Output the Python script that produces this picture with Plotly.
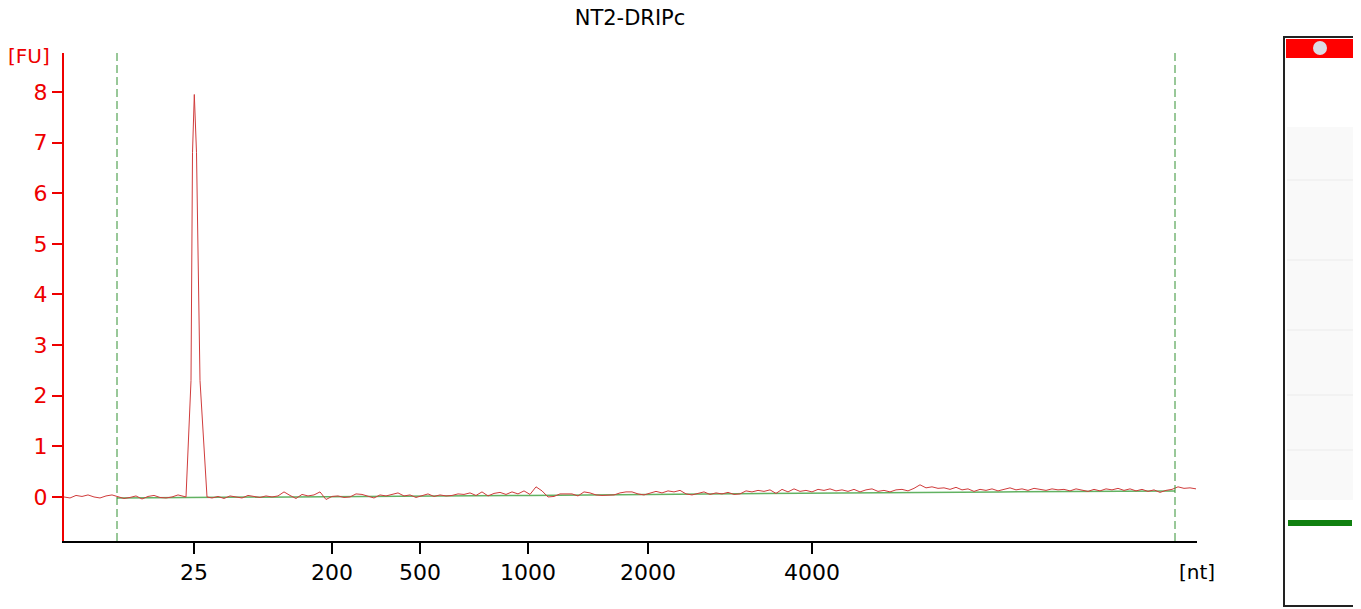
import plotly.graph_objects as go

# ---------------- data ----------------
title_text = "NT2-DRIPc"

# migration position (arbitrary units along the run) and fluorescence [FU]
pos_start = list(range(0, 121, 6))
fu_start = [0.0, -0.02, 0.03, 0.01, 0.04, 0.0, -0.02, 0.02, 0.04, 0.01,
            -0.03, -0.01, 0.02, -0.04, 0.01, 0.03, -0.01, -0.02, 0.0, 0.04, 0.01]

pos_peak = [122, 127, 128.5, 130.3, 132.5, 136, 141, 143]
fu_peak = [0.0, 2.3, 6.8, 7.95, 6.8, 2.3, 0.6, 0.0]

pos_tail = list(range(148, 1133, 6))
fu_tail = [
    -0.02, 0.01, -0.03, 0.02, 0.0, -0.02, 0.03, 0.01, -0.01, 0.02,
    0.0, 0.02, 0.1, 0.03, -0.03, 0.05, 0.02, 0.04, 0.1, -0.05,
    0.01, 0.02, -0.01, 0.0, 0.06, 0.05, 0.02, -0.02, 0.04, 0.02,
    0.05, 0.08, 0.02, 0.04, -0.01, 0.03, 0.06, 0.01, 0.04, 0.02,
    0.03, 0.06, 0.05, 0.08, 0.03, 0.1, 0.02, 0.07, 0.09, 0.05,
    0.1, 0.06, 0.12, 0.05, 0.2, 0.12, 0.0, 0.01, 0.06, 0.06,
    0.06, 0.02, 0.1, 0.08, 0.04, 0.03, 0.03, 0.04, 0.08, 0.1,
    0.1, 0.06, 0.04, 0.08, 0.11, 0.08, 0.12, 0.1, 0.13, 0.06,
    0.04, 0.07, 0.1, 0.05, 0.08, 0.06, 0.09, 0.05, 0.06, 0.12,
    0.1, 0.13, 0.11, 0.14, 0.07, 0.15, 0.1, 0.16, 0.11, 0.13,
    0.1, 0.15, 0.13, 0.16, 0.12, 0.14, 0.11, 0.15, 0.1, 0.14,
    0.16, 0.11, 0.13, 0.1, 0.14, 0.15, 0.12, 0.17, 0.24, 0.18,
    0.2, 0.17, 0.18, 0.15, 0.19, 0.14, 0.16, 0.11, 0.15, 0.13,
    0.16, 0.12, 0.15, 0.18, 0.14, 0.16, 0.13, 0.17, 0.15, 0.13,
    0.16, 0.14, 0.15, 0.12, 0.16, 0.13, 0.11, 0.15, 0.12, 0.16,
    0.14, 0.17, 0.13, 0.16, 0.12, 0.15, 0.11, 0.14, 0.09, 0.13,
    0.15, 0.2, 0.17, 0.18, 0.16,
]

positions = pos_start + pos_peak + pos_tail
fluorescence = fu_start + fu_peak + fu_tail

# baseline between lower and upper marker
baseline_pos = [53, 268, 464, 584, 748, 936, 1111]
baseline_fu = [-0.02, 0.0, 0.03, 0.05, 0.08, 0.10, 0.12]

# lower / upper marker positions
marker_pos = [53, 1111]

# ladder tick positions and labels [nt]
ladder_pos = [130, 268, 356, 464, 584, 748]
ladder_labels = ["25", "200", "500", "1000", "2000", "4000"]

# ---------------- figure ----------------
FONT = "DejaVu Sans"
RED = "#ee0000"
fig = go.Figure()

fig.add_trace(go.Scatter(
    x=baseline_pos, y=baseline_fu, mode="lines",
    line=dict(color="rgba(70,165,70,0.85)", width=1.5),
    hoverinfo="skip", showlegend=False))

fig.add_trace(go.Scatter(
    x=positions, y=fluorescence, mode="lines",
    line=dict(color="rgb(208,60,60)", width=1),
    showlegend=False))

for mp in marker_pos:
    fig.add_shape(type="line", xref="x", yref="paper", x0=mp, x1=mp, y0=0, y1=1,
                  line=dict(color="rgb(50,145,50)", width=1, dash="8px,4px"))

# page has an 8px body margin: figure is placed at screen (8, 8)
FIG_W, FIG_H = 1353, 601
ML, MR, MT, MB = 56, 5, 45, 68
W = FIG_W - ML - MR
H = FIG_H - MT - MB
def px(xs):  # screen x -> paper x
    return (xs - 8 - ML) / W
def py(ys):  # screen y -> paper y
    return (FIG_H - MB - (ys - 8)) / H

# gel lane
fig.add_shape(type="rect", xref="paper", yref="paper",
              x0=px(1284), x1=px(1356), y0=py(606), y1=py(37),
              line=dict(color="#222222", width=2), fillcolor="white", layer="below")
fig.add_shape(type="rect", xref="paper", yref="paper",
              x0=px(1287), x1=px(1353), y0=py(500), y1=py(127),
              line=dict(width=0), fillcolor="#f9f9f9", layer="below")
for yb in [180, 260, 330, 395, 450]:
    fig.add_shape(type="line", xref="paper", yref="paper",
                  x0=px(1287), x1=px(1353), y0=py(yb), y1=py(yb),
                  line=dict(color="#f2f2f2", width=2))
fig.add_shape(type="rect", xref="paper", yref="paper",
              x0=px(1286), x1=px(1354), y0=py(58), y1=py(39),
              line=dict(width=0), fillcolor="#ff0000")
fig.add_shape(type="circle", xref="paper", yref="paper",
              x0=px(1313), x1=px(1327), y0=py(55), y1=py(41),
              line=dict(width=0), fillcolor="#dcdce4")
fig.add_shape(type="rect", xref="paper", yref="paper",
              x0=px(1288), x1=px(1352), y0=py(526), y1=py(520),
              line=dict(width=0), fillcolor="#108010")

fig.add_annotation(text="[FU]", xref="paper", yref="paper", x=px(6), y=py(56),
                   xanchor="left", yanchor="middle", showarrow=False,
                   font=dict(family=FONT, size=20, color=RED))
fig.add_annotation(text="[nt]", xref="paper", yref="paper", x=px(1197), y=py(572),
                   xanchor="center", yanchor="middle", showarrow=False,
                   font=dict(family=FONT, size=20, color="black"))

fig.update_layout(
    width=FIG_W, height=FIG_H,
    margin=dict(l=ML, r=MR, t=MT, b=MB),
    paper_bgcolor="white", plot_bgcolor="white",
    title=dict(text=title_text, x=px(630), xanchor="center", xref="paper",
               y=1 - 10 / FIG_H, yanchor="middle",
               font=dict(family=FONT, size=21, color="black")),
    xaxis=dict(domain=[0, px(1197)], range=[0, 1133], showgrid=False, zeroline=False,
               tickmode="array", tickvals=ladder_pos, ticktext=ladder_labels,
               ticks="outside", ticklen=11, tickwidth=2, tickcolor="black",
               showline=True, linecolor="black", linewidth=2,
               tickfont=dict(family=FONT, size=22, color="black")),
    yaxis=dict(range=[-0.87, 8.77], showgrid=False, zeroline=False,
               tickmode="linear", tick0=0, dtick=1,
               ticks="outside", ticklen=10, tickwidth=2, tickcolor=RED,
               showline=True, linecolor=RED, linewidth=2,
               tickfont=dict(family=FONT, size=22, color=RED)),
)

fig.write_html("out.html")
